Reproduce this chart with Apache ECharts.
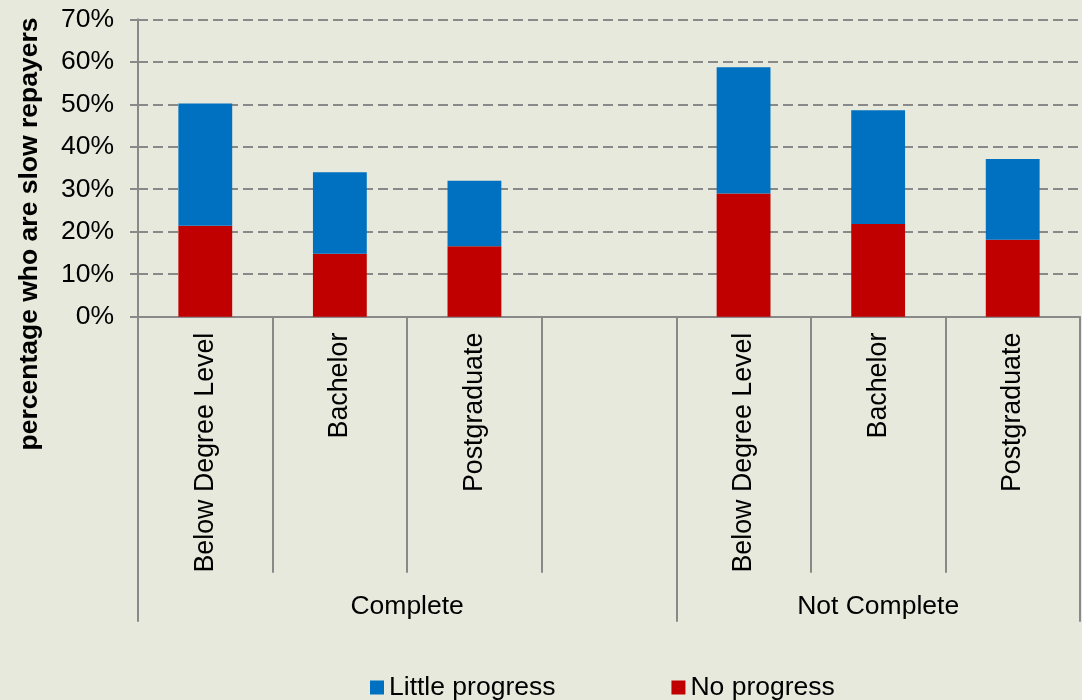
<!DOCTYPE html>
<html><head><meta charset="utf-8">
<script src="https://cdn.jsdelivr.net/npm/echarts@6/dist/echarts.min.js"></script>
<style>html,body{margin:0;padding:0;background:#e6e9dc}#c{width:1082px;height:700px}</style>
</head><body><div id="c"></div>
<script>
// ---- data ----
const categories = ['Below Degree Level', 'Bachelor', 'Postgraduate', '', 'Below Degree Level', 'Bachelor', 'Postgraduate'];
const groupLabels = ['Complete', 'Not Complete'];
const groupSizes = [4, 3];
const noProgress = [21.4, 14.8, 16.6, null, 29.0, 21.8, 18.1];
const littleProgress = [28.8, 19.2, 15.4, null, 29.7, 26.8, 19.0];
const yMin = 0, yMax = 70, yStep = 10;
const yTitle = 'percentage who are slow repayers';

// group boundaries / centers derived from group sizes
const bounds = [0];
groupSizes.forEach(s => bounds.push(bounds[bounds.length - 1] + s));
const centers = groupSizes.map((s, i) => bounds[i] + s / 2);

const FONT = '"Liberation Sans", Arial, sans-serif';
const AX = '#898989';

const chart = echarts.init(document.getElementById('c'), null, {renderer: 'canvas'});
chart.setOption({
  backgroundColor: '#e6e9dc',
  animation: false,
  textStyle: {fontFamily: FONT},
  grid: {left: 138, right: 2, top: 19.3, bottom: 383.3, containLabel: false},
  legend: {
    left: 365, top: 669,
    itemWidth: 14, itemHeight: 14, itemGap: 116,
    icon: 'rect',
    data: ['Little progress', 'No progress'],
    textStyle: {fontSize: 26.5, color: '#000', fontFamily: FONT}
  },
  xAxis: [
    {
      type: 'category', data: categories,
      axisLine: {show: true, lineStyle: {color: AX, width: 2}},
      axisTick: {show: true, length: 256, lineStyle: {color: AX, width: 2}, interval: 0},
      axisLabel: {rotate: 90, interval: 0, margin: 16, fontSize: 26.8, color: '#000', fontFamily: FONT},
      splitLine: {show: false}
    },
    {
      type: 'value', min: 0, max: categories.length, position: 'bottom',
      axisLine: {show: false},
      splitLine: {show: false},
      axisTick: {show: true, customValues: bounds, length: 305, lineStyle: {color: AX, width: 2}},
      axisLabel: {
        customValues: centers, margin: 276, fontSize: 26.5, color: '#000', fontFamily: FONT,
        formatter: v => { const i = centers.indexOf(v); return i >= 0 ? groupLabels[i] : ''; }
      }
    }
  ],
  yAxis: {
    type: 'value', min: yMin, max: yMax, interval: yStep,
    name: yTitle, nameLocation: 'middle', nameRotate: 90, nameGap: 95,
    nameTextStyle: {fontSize: 26.5, fontWeight: 'bold', color: '#000', fontFamily: FONT, padding: [0, 132, 0, 0]},
    axisLine: {show: true, lineStyle: {color: AX, width: 2}},
    axisTick: {show: true, length: 8, lineStyle: {color: AX, width: 2}},
    axisLabel: {formatter: '{value}%', fontSize: 26.5, color: '#000', margin: 24, fontFamily: FONT},
    splitLine: {show: true, lineStyle: {color: AX, width: 2, type: [10, 5]}}
  },
  series: [
    {name: 'No progress', type: 'bar', stack: 'a', data: noProgress, barWidth: '40%',
     itemStyle: {color: '#c00000'}},
    {name: 'Little progress', type: 'bar', stack: 'a', data: littleProgress, barWidth: '40%',
     itemStyle: {color: '#0070c0'}}
  ]
});
</script></body></html>
